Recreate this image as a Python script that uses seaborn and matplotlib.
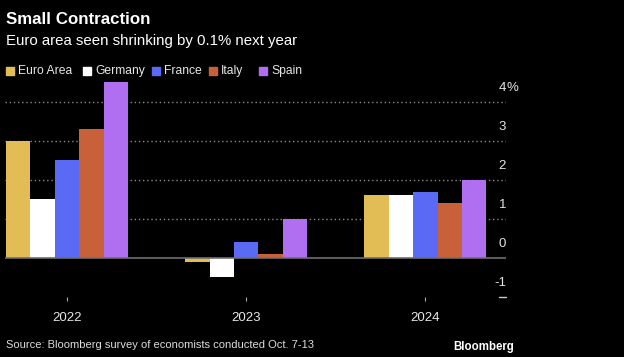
import pandas as pd
import matplotlib.pyplot as plt
import seaborn as sns

sns.set_style('dark')
plt.rcParams['font.family'] = ['Liberation Sans', 'DejaVu Sans']

# data (GDP growth forecasts, %)
years = ['2022', '2023', '2024']
regions = ['Euro Area', 'Germany', 'France', 'Italy', 'Spain']
euro_area = [3.0, -0.1, 1.6]
germany = [1.5, -0.5, 1.6]
france = [2.5, 0.4, 1.7]
italy = [3.3, 0.1, 1.4]
spain = [4.5, 1.0, 2.0]
colors = ['#e2bd55', '#ffffff', '#5b6af5', '#c8613a', '#b06ef0']
yticks = [-1, 0, 1, 2, 3, 4]

series = dict(zip(regions, [euro_area, germany, france, italy, spain]))
df = pd.DataFrame([
    {'year': y, 'region': r, 'value': v}
    for r in regions for y, v in zip(years, series[r])
])

fig = plt.figure(figsize=(6.24, 3.57), dpi=100, facecolor='black')
ax = fig.add_axes([0.008, 0.168, 0.803, 0.613])
ax.set_facecolor('black')

sns.barplot(data=df, x='year', y='value', hue='region', order=years,
            hue_order=regions, palette=colors, width=0.68, gap=0,
            saturation=1, edgecolor='none', linewidth=0, legend=False, ax=ax)

ax.set_xlim(-0.346, 2.45)
ax.set_ylim(-1, 4.6)

# dotted gridlines + solid zero line
for t in yticks[2:]:
    ax.axhline(t, color='#8a8a8a', lw=1, ls=(0, (1, 2)), zorder=0)
ax.axhline(0, color='#6e6e6e', lw=1.2, zorder=3)
ax.plot([0.985, 1.0], [0, 0], transform=ax.transAxes, color='#cccccc',
        lw=1, clip_on=False)

# y labels on the right, sitting above their gridlines
for t in yticks:
    ax.annotate(str(t), xy=(1.0, t), xycoords=('axes fraction', 'data'),
                xytext=(0, 10), textcoords='offset points', ha='right',
                va='center', color='#e6e6e6', fontsize=9.5)
ax.annotate('%', xy=(1.0, 4), xycoords=('axes fraction', 'data'),
            xytext=(0, 10), textcoords='offset points', ha='left',
            va='center', color='#e6e6e6', fontsize=9.5)

ax.set_yticks([])
ax.set_xlabel('')
ax.set_ylabel('')
ax.tick_params(axis='x', colors='#aaaaaa', length=3, width=0.8, pad=8,
               labelcolor='#e6e6e6', labelsize=9.5, bottom=True)
for s in ax.spines.values():
    s.set_visible(False)
ax.grid(False)

fig.text(0.01, 1 - 20 / 357, 'Small Contraction', color='white', fontsize=12.2,
         fontweight='bold', va='center')
fig.text(0.01, 1 - 41 / 357, 'Euro area seen shrinking by 0.1% next year',
         color='white', fontsize=10.8, va='center')

# legend
leg_x = [6, 83, 152, 209, 259]
for x, r, c in zip(leg_x, regions, colors):
    fig.patches.append(plt.Rectangle((x / 624, 1 - 75 / 357), 8 / 624, 8 / 357,
                                     transform=fig.transFigure, color=c))
    fig.text((x + 12) / 624, 1 - 71 / 357, r, color='#e6e6e6', fontsize=8.7,
             va='center')

fig.text(0.01, 1 - 345 / 357,
         'Source: Bloomberg survey of economists conducted Oct. 7-13',
         color='#dddddd', fontsize=8.0, va='center')
fig.text(514 / 624, 1 - 347 / 357, 'Bloomberg', color='white', fontsize=8.3,
         fontweight='bold', ha='right', va='center')

fig.savefig('out.png', dpi=100, facecolor='black')
